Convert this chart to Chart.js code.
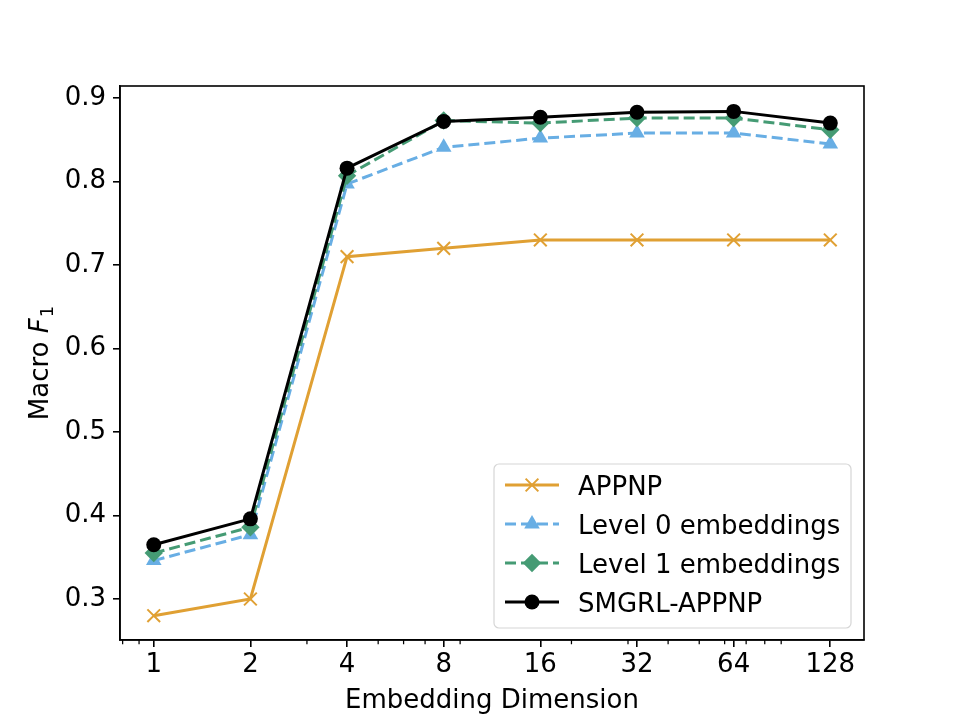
<!DOCTYPE html>
<html>
<head>
<meta charset="utf-8">
<script src="https://cdn.jsdelivr.net/npm/chart.js@4.4.1/dist/chart.umd.min.js"></script>
<style>
html,body{margin:0;padding:0;background:#fff;}
#wrap{width:960px;height:720px;}
</style>
</head>
<body>
<div id="wrap"><canvas id="c" width="960" height="720"></canvas></div>
<script>
const dims = [1, 2, 4, 8, 16, 32, 64, 128];
const appnp = [0.280, 0.300, 0.710, 0.720, 0.730, 0.730, 0.730, 0.730];
const level0 = [0.346, 0.377, 0.797, 0.841, 0.852, 0.858, 0.858, 0.845];
const level1 = [0.355, 0.386, 0.807, 0.873, 0.870, 0.876, 0.876, 0.862];
const smgrl = [0.365, 0.396, 0.816, 0.872, 0.877, 0.883, 0.884, 0.870];
const yTicks = [0.3, 0.4, 0.5, 0.6, 0.7, 0.8, 0.9];
const minorTicks = [0.8, 0.9, 3, 5, 6, 7, 9, 20, 30, 40, 50, 60, 70, 80, 90];
const seriesNames = ['APPNP', 'Level 0 embeddings', 'Level 1 embeddings', 'SMGRL-APPNP'];

const FONT = "'DejaVu Sans', sans-serif";
const FS = 26;
const C_ORANGE = '#E0A033';
const C_BLUE = '#68AEE4';
const C_GREEN = '#459B74';
const C_BLACK = '#000000';
const DASH = [11, 5];

function pts(arr){ return dims.map((d,i)=>({x:d, y:arr[i]})); }

const datasets = [
  {label: seriesNames[0], data: pts(appnp), borderColor: C_ORANGE, backgroundColor: C_ORANGE,
   pointStyle: 'crossRot', pointRadius: 9, pointBorderWidth: 2, borderWidth: 3, order: 3},
  {label: seriesNames[1], data: pts(level0), borderColor: C_BLUE, backgroundColor: C_BLUE,
   pointStyle: 'triangle', pointRadius: 9, pointBorderWidth: 0, borderWidth: 3, borderDash: DASH, order: 2},
  {label: seriesNames[2], data: pts(level1), borderColor: C_GREEN, backgroundColor: C_GREEN,
   pointStyle: 'rectRot', pointRadius: 9.2, pointBorderWidth: 0, borderWidth: 3, borderDash: DASH, order: 1},
  {label: seriesNames[3], data: pts(smgrl), borderColor: C_BLACK, backgroundColor: C_BLACK,
   pointStyle: 'circle', pointRadius: 7.5, pointBorderWidth: 0, borderWidth: 3, order: 0}
];

const framePlugin = {
  id: 'frame',
  afterDraw(chart){
    const ctx = chart.ctx, a = chart.chartArea;
    const xs = chart.scales.x;
    ctx.save();
    ctx.strokeStyle = '#000'; ctx.lineWidth = 1.6;
    ctx.strokeRect(a.left, a.top, a.right - a.left, a.bottom - a.top);
    ctx.lineWidth = 1.25;
    ctx.beginPath();
    minorTicks.forEach(v=>{
      const px = xs.getPixelForValue(v);
      if (px < a.left || px > a.right) return;
      ctx.moveTo(px, a.bottom); ctx.lineTo(px, a.bottom + 4.2);
    });
    ctx.stroke();
    ctx.fillStyle = '#000';
    ctx.font = FS + 'px ' + FONT;
    ctx.textAlign = 'center'; ctx.textBaseline = 'alphabetic';
    ctx.fillText('Embedding Dimension', (a.left + a.right)/2, 708);
    // y title: Macro F_1
    ctx.translate(48, (a.top + a.bottom)/2);
    ctx.rotate(-Math.PI/2);
    ctx.textAlign = 'left'; ctx.textBaseline = 'alphabetic';
    const fN = FS + 'px ' + FONT, fI = 'italic ' + FS + 'px ' + FONT, fS = '18px ' + FONT;
    ctx.font = fN; const w1 = ctx.measureText('Macro ').width;
    ctx.font = fI; const w2 = ctx.measureText('F').width;
    ctx.font = fS; const w3 = ctx.measureText('1').width;
    let x0 = -(w1 + w2 + w3 + 1)/2;
    ctx.font = fN; ctx.fillText('Macro ', x0, 0);
    ctx.font = fI; ctx.fillText('F', x0 + w1, 0);
    ctx.font = fS; ctx.fillText('1', x0 + w1 + w2 + 1, 5);
    ctx.restore();
    drawLegend(chart);
  }
};

function drawLegend(chart){
  const ctx = chart.ctx;
  const bx = 494, by = 464, bw = 357, bh = 164, r = 5;
  ctx.save();
  ctx.beginPath();
  ctx.moveTo(bx + r, by);
  ctx.arcTo(bx + bw, by, bx + bw, by + bh, r);
  ctx.arcTo(bx + bw, by + bh, bx, by + bh, r);
  ctx.arcTo(bx, by + bh, bx, by, r);
  ctx.arcTo(bx, by, bx + bw, by, r);
  ctx.closePath();
  ctx.fillStyle = 'rgba(255,255,255,0.8)';
  ctx.fill();
  ctx.strokeStyle = '#d6d6d6'; ctx.lineWidth = 1.2;
  ctx.stroke();
  const rows = [485, 524, 563, 602];
  chart.data.datasets.forEach((ds, i)=>{
    const y = rows[i];
    ctx.beginPath();
    ctx.strokeStyle = ds.borderColor; ctx.lineWidth = 3;
    ctx.setLineDash(ds.borderDash || []);
    ctx.moveTo(505, y); ctx.lineTo(559, y);
    ctx.stroke();
    ctx.setLineDash([]);
    ctx.fillStyle = ds.backgroundColor; ctx.strokeStyle = ds.borderColor;
    ctx.lineWidth = ds.pointBorderWidth || 1;
    Chart.helpers.drawPoint(ctx, {
      pointStyle: ds.pointStyle, radius: ds.pointRadius, rotation: 0,
      borderWidth: ds.pointBorderWidth
    }, 532, y);
    ctx.fillStyle = '#000';
    ctx.font = FS + 'px ' + FONT;
    ctx.textAlign = 'left'; ctx.textBaseline = 'alphabetic';
    ctx.fillText(ds.label, 578, y + 9.5);
  });
  ctx.restore();
}

new Chart(document.getElementById('c'), {
  type: 'line',
  data: { datasets },
  options: {
    responsive: false,
    animation: false,
    devicePixelRatio: 1,
    layout: { padding: { left: 0, top: 86, right: 96, bottom: 0 } },
    plugins: { legend: { display: false }, tooltip: { enabled: false } },
    elements: { line: { tension: 0, fill: false } },
    scales: {
      x: {
        type: 'logarithmic',
        min: 0.785, max: 163,
        afterBuildTicks(s){ s.ticks = dims.map(v=>({value: v})); },
        afterFit(s){ s.height = 80; },
        ticks: { color: '#000', font: { family: FONT, size: FS, lineHeight: 1.0 }, padding: 5, maxRotation: 0, autoSkip: false,
          callback: (v)=> String(v) },
        grid: { display: true, drawOnChartArea: false, drawTicks: true, tickLength: 7, color: '#000', lineWidth: 1.6 },
        border: { display: true, color: '#000', width: 1.6 }
      },
      y: {
        type: 'linear',
        min: 0.2509, max: 0.9144,
        afterBuildTicks(s){ s.ticks = yTicks.map(v=>({value: v})); },
        afterFit(s){ s.width = 120; },
        ticks: { color: '#000', font: { family: FONT, size: FS }, padding: 7,
          callback: (v)=> v.toFixed(1) },
        grid: { display: true, drawOnChartArea: false, drawTicks: true, tickLength: 7, color: '#000', lineWidth: 1.6 },
        border: { display: true, color: '#000', width: 1.6 }
      }
    }
  },
  plugins: [framePlugin]
});
</script>
</body>
</html>
